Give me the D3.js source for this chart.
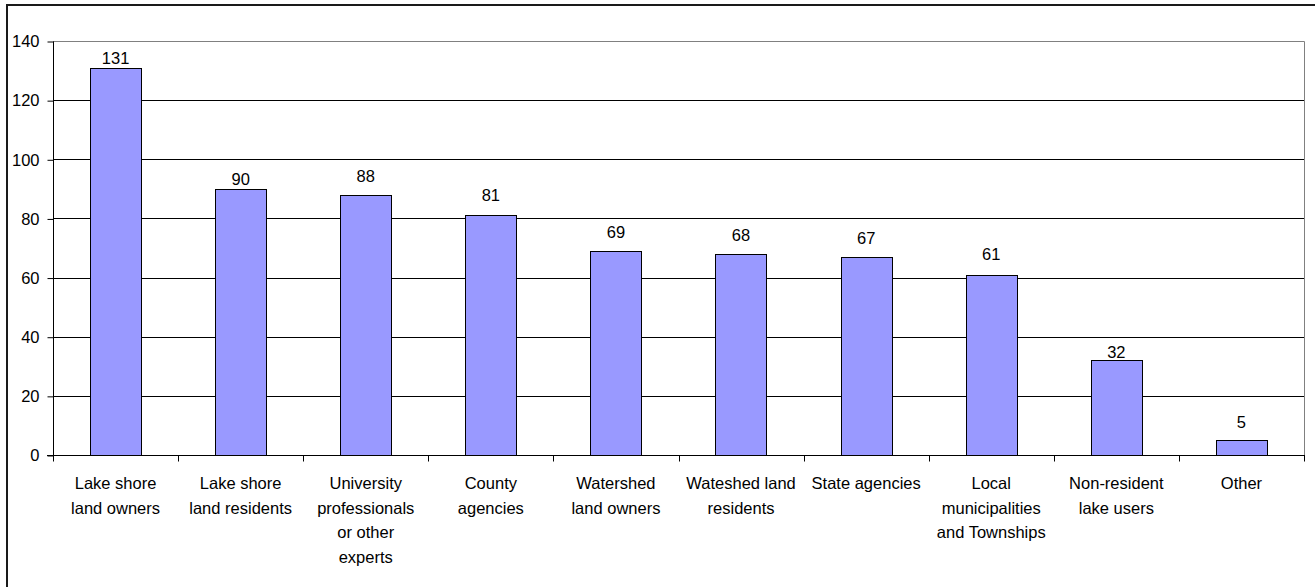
<!DOCTYPE html>
<html>
<head>
<meta charset="utf-8">
<script src="https://cdn.jsdelivr.net/npm/d3@7"></script>
<style>
  html, body { margin: 0; padding: 0; background: #fff; }
  svg { display: block; }
  text { font-family: "Liberation Sans", Arial, sans-serif; fill: #000; }
</style>
</head>
<body>
<svg id="chart" width="1315" height="587"></svg>
<script>
const categories = [
  "Lake shore\nland owners",
  "Lake shore\nland residents",
  "University\nprofessionals\nor other\nexperts",
  "County\nagencies",
  "Watershed\nland owners",
  "Wateshed land\nresidents",
  "State agencies",
  "Local\nmunicipalities\nand Townships",
  "Non-resident\nlake users",
  "Other"
];
const values = [131, 90, 88, 81, 69, 68, 67, 61, 32, 5];
const yTicks = [0, 20, 40, 60, 80, 100, 120, 140];

(function () {
const svg = d3.select("#chart");
const pLeft = 53, pRight = 1304, pTop = 41, pBottom = 455;
// per-label vertical gap (px) between label baseline and bar top, as placed in the original
const labelGap = [4, 4, 13, 14.5, 13, 13, 13, 15, 2, 12.5];

// outer chart border
svg.append("rect")
  .attr("x", 7).attr("y", 5)
  .attr("width", 1320).attr("height", 600)
  .attr("fill", "#fff").attr("stroke", "#1a1a1a").attr("stroke-width", 2);

const x = d3.scaleBand()
  .domain(categories)
  .range([pLeft, pRight])
  .paddingInner(0.59)
  .paddingOuter(0.295);

const y = d3.scaleLinear().domain([0, 140]).range([pBottom, pTop]);

const crisp = v => Math.round(v) + 0.5;

// gridlines
svg.append("g").selectAll("line")
  .data(yTicks.filter(t => t > 0 && t < 140))
  .join("line")
  .attr("x1", pLeft).attr("x2", pRight)
  .attr("y1", d => crisp(y(d))).attr("y2", d => crisp(y(d)))
  .attr("stroke", "#000").attr("stroke-width", 1);

// plot area border top/right (gray)
svg.append("path")
  .attr("d", `M${pLeft},${crisp(y(140))}H${crisp(pRight)}V${crisp(y(0))}`)
  .attr("fill", "none").attr("stroke", "#808080").attr("stroke-width", 1);

// bars
svg.append("g").selectAll("rect")
  .data(values)
  .join("rect")
  .attr("x", (d, i) => crisp(x(categories[i])))
  .attr("y", d => crisp(y(d)))
  .attr("width", Math.round(x.bandwidth()))
  .attr("height", d => crisp(y(0)) - crisp(y(d)))
  .attr("fill", "#9999ff").attr("stroke", "#000").attr("stroke-width", 1);

// value labels
svg.append("g").selectAll("text")
  .data(values)
  .join("text")
  .attr("x", (d, i) => x(categories[i]) + x.bandwidth() / 2)
  .attr("y", (d, i) => y(d) - labelGap[i])
  .attr("text-anchor", "middle")
  .attr("font-size", "16.5px")
  .text(d => d);

// y axis
const yAxis = d3.axisLeft(y).tickValues(yTicks).tickSize(6).tickPadding(8);
const ga = svg.append("g").attr("transform", `translate(${crisp(pLeft)},0.5)`).call(yAxis);
ga.select(".domain").attr("stroke", "#000").attr("d", `M0,${Math.round(y(140))}V${Math.round(y(0))}`);
ga.selectAll(".tick line").attr("stroke", "#000");
ga.selectAll(".tick text").attr("font-size", "16.5px").attr("font-family", "Liberation Sans, Arial, sans-serif").attr("fill", "#000");

// x axis line
svg.append("line")
  .attr("x1", pLeft - 6).attr("x2", pRight + 1)
  .attr("y1", crisp(y(0))).attr("y2", crisp(y(0)))
  .attr("stroke", "#000");

// x ticks at category boundaries
const step = x.step();
const bounds = d3.range(categories.length + 1).map(i => pLeft + i * step);
svg.append("g").selectAll("line")
  .data(bounds)
  .join("line")
  .attr("x1", d => crisp(d)).attr("x2", d => crisp(d))
  .attr("y1", crisp(y(0))).attr("y2", crisp(y(0)) + 6)
  .attr("stroke", "#000");

// category labels
const lab = svg.append("g").selectAll("text")
  .data(categories)
  .join("text")
  .attr("text-anchor", "middle")
  .attr("font-size", "16.5px")
  .attr("x", d => x(d) + x.bandwidth() / 2)
  .attr("y", 489);
lab.selectAll("tspan")
  .data(d => d.split("\n").map(s => ({s, d})))
  .join("tspan")
  .attr("x", o => x(o.d) + x.bandwidth() / 2)
  .attr("dy", (o, i) => i === 0 ? 0 : 24.6)
  .text(o => o.s);
})();
</script>
</body>
</html>
